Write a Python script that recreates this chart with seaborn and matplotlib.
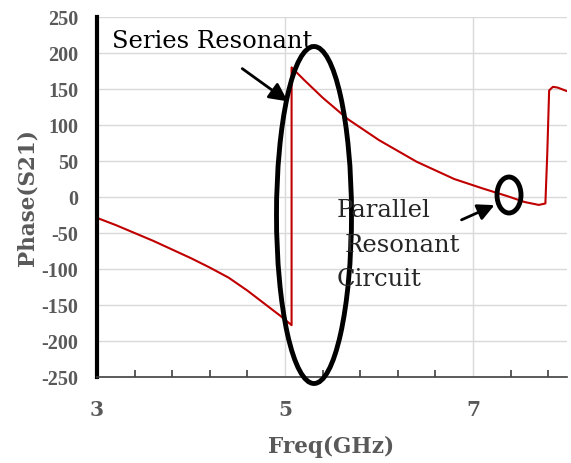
import numpy as np
import pandas as pd
import matplotlib
matplotlib.use("Agg")
import matplotlib.pyplot as plt
import seaborn as sns
from matplotlib.patches import Ellipse

freq = [3.0, 3.2, 3.4, 3.6, 3.8, 4.0, 4.2, 4.4, 4.6, 4.8, 4.95, 5.07,
        5.07, 5.2, 5.4, 5.67, 6.0, 6.4, 6.8, 7.1, 7.37, 7.55, 7.7, 7.77,
        7.79, 7.81, 7.85, 7.9, 8.0]
phase = [-29, -39, -50, -61, -73, -85, -98, -112, -130, -150, -165, -178,
         180, 163, 138, 108, 79, 49, 25, 12, 1, -7, -11, -9,
         60, 148, 153, 152, 147]

y_ticks = [-250, -200, -150, -100, -50, 0, 50, 100, 150, 200, 250]
x_ticks = [3, 5, 7]

sns.set_theme(style="white")
plt.rcParams['font.family'] = ['DejaVu Serif', 'Liberation Serif']
plt.rcParams['axes.unicode_minus'] = False

fig = plt.figure(figsize=(5.71, 4.64), dpi=100)
ax = fig.add_axes([97/571, 1-378/464, (567-97)/571, (378-18)/464])

df = pd.DataFrame({"freq": freq, "phase": phase})
sns.lineplot(data=df, x="freq", y="phase", sort=False, estimator=None,
             color="#C00000", linewidth=1.5, ax=ax)

ax.set_xlim(3, 8)
ax.set_ylim(-250, 250)
ax.set_yticks(y_ticks)
ax.set_xticks(x_ticks)
ax.set_xticks(np.arange(3, 8.01, 0.4), minor=True)
ax.grid(True, axis="y", color="#d9d9d9", linewidth=1)
ax.grid(True, axis="x", which="major", color="#d9d9d9", linewidth=1)
ax.set_axisbelow(True)

for s in ["top", "right"]:
    ax.spines[s].set_visible(False)
ax.spines["left"].set_color("black")
ax.spines["left"].set_linewidth(3)
ax.spines["bottom"].set_color("#404040")
ax.spines["bottom"].set_linewidth(1.2)

ax.tick_params(axis="y", length=0, pad=13.5, labelsize=14.5, labelcolor="#595959")
ax.tick_params(axis="x", which="major", direction="inout", length=10, width=1.2,
               color="#404040", pad=11, labelsize=14.5, labelcolor="#595959")
ax.tick_params(axis="x", which="minor", direction="in", length=5, width=1.2,
               color="#404040", bottom=True)
for lab in ax.get_yticklabels():
    lab.set_fontweight("bold")
    lab.set_family(["Liberation Serif", "DejaVu Serif"])
for lab in ax.get_xticklabels():
    lab.set_fontweight("bold")

ax.set_xlabel("Freq(GHz)", fontsize=15.5, fontweight="bold", color="#595959")
ax.set_ylabel("Phase(S21)", fontsize=15.5, fontweight="bold", color="#595959")
ax.xaxis.set_label_coords(331/571, 1-447/464, transform=fig.transFigure)
ax.yaxis.set_label_coords(28/571, 1-198/464, transform=fig.transFigure)
ax.xaxis.label.set_va("center")
ax.yaxis.label.set_va("center")

def fx(px):
    return px / 571
def fy(py):
    return 1 - py / 464

fs = 17.5
fig.text(fx(112), fy(48), "Series Resonant", fontsize=fs, color="black",
         ha="left", va="baseline")
fig.text(fx(337), fy(217), "Parallel", fontsize=fs, ha="left", va="baseline")
fig.text(fx(345), fy(252), "Resonant", fontsize=fs, ha="left", va="baseline")
fig.text(fx(337), fy(286), "Circuit", fontsize=fs, ha="left", va="baseline")

ax.annotate("", xy=(fx(290), fy(104)), xycoords="figure fraction",
            xytext=(fx(240), fy(68)), textcoords="figure fraction",
            arrowprops=dict(arrowstyle="-|>,head_length=0.5,head_width=0.25",
                            color="black", lw=2, mutation_scale=22))
ax.annotate("", xy=(fx(497), fy(205)), xycoords="figure fraction",
            xytext=(fx(459), fy(222)), textcoords="figure fraction",
            arrowprops=dict(arrowstyle="-|>,head_length=0.5,head_width=0.25",
                            color="black", lw=2, mutation_scale=20))

e1 = Ellipse((fx(314), fy(216)), fx(75), 337/464, transform=fig.transFigure,
             fill=False, edgecolor="black", linewidth=3.5)
e2 = Ellipse((fx(509), fy(196)), fx(24), 36/464, transform=fig.transFigure,
             fill=False, edgecolor="black", linewidth=3.5)
fig.patches.extend([e1, e2])

fig.savefig("out.png", dpi=100)
